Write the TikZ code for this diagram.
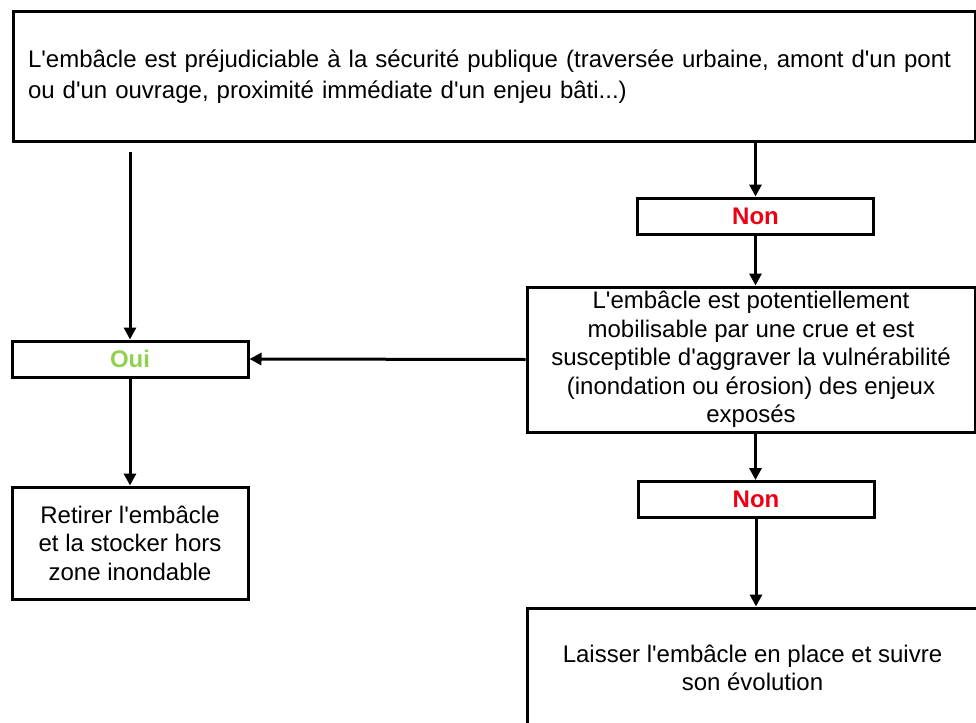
\documentclass[tikz,border=0pt]{standalone}
\usepackage{fontspec}
\setmainfont{Liberation Sans}
\usetikzlibrary{arrows.meta}
\usetikzlibrary{positioning}
\definecolor{ouigreen}{RGB}{146,208,80}
\definecolor{nonred}{RGB}{235,0,20}
\newcommand{\ap}{\textquotesingle}

\begin{document}
\begin{tikzpicture}[x=1pt, y=-1pt,
    box/.style={draw=black, line width=3pt, fill=white, align=center, inner sep=0pt,
      font=\fontsize{24}{28.5}\selectfont},
    answer/.style={box, minimum width=236pt, minimum height=36pt, font=\fontsize{24}{28.5}\selectfont\bfseries},
    flow/.style={line width=3pt, -{Triangle[length=12pt, width=12pt]}}]
  \clip (0,0) rectangle (976,722);
  \fill[white] (0,0) rectangle (976,722);

  % Questions
  \node[box, minimum width=962pt, minimum height=130pt, text width=932pt, align=left,
      font=\fontsize{24}{31}\selectfont] (q1) at (494,77)
    {L\ap embâcle est préjudiciable à la sécurité publique (traversée urbaine, amont d\ap un pont\\
     ou d\ap un ouvrage, proximité immédiate d\ap un enjeu bâti...)};
  \node[box, minimum width=448pt, minimum height=145pt] (q2) at (751,359.5)
    {L\ap embâcle est potentiellement\\ mobilisable par une crue et est\\
     susceptible d\ap aggraver la vulnérabilité\\ (inondation ou érosion) des enjeux\\ exposés};

  % Answers
  \node[answer, text=nonred] (n1) at (755.5,216) {Non};
  \node[answer, text=nonred] (n2) at (756,499.5) {Non};
  \node[answer, text=ouigreen] (oui) at (130,359) {Oui};

  % Actions
  \node[box, minimum width=236pt, minimum height=112pt] (a1) at (130,543)
    {Retirer l\ap embâcle\\ et la stocker hors\\ zone inondable};
  \node[box, minimum width=451pt, minimum height=120pt] (a2) at (752.5,668)
    {Laisser l\ap embâcle en place et suivre\\ son évolution};

  % Connectors
  \coordinate (lstart) at (130,152);
  \draw[flow] (lstart) -- (oui.north);
  \draw[flow] (q1.south -| n1.north) -- (n1.north);
  \draw[flow] (n1.south) -- (n1.south |- q2.north);
  \draw[flow] (q2.west) -- (oui.east);
  \draw[flow] (n1.south |- q2.south) -- (n2.north -| n1.south);
  \draw[flow] (n2.south) -- (n2.south |- a2.north);
  \draw[flow] (oui.south) -- (a1.north);
\end{tikzpicture}
\end{document}
